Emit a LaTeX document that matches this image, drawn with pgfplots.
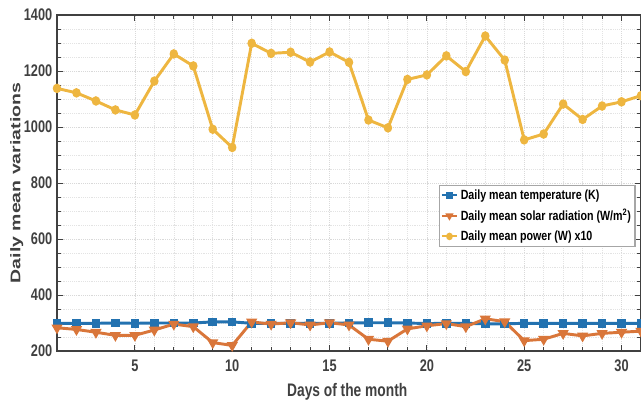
\documentclass[border=0pt]{standalone}
\usepackage{pgfplots}
\pgfplotsset{compat=1.18}
\usepackage{fontspec}
\setmainfont{Liberation Sans}
\newfontfamily\condsans[FakeStretch=0.76]{Liberation Sans}
\newfontfamily\legsans[FakeStretch=0.8]{Liberation Sans}
\newfontfamily\widesans[FakeStretch=1.39]{Liberation Sans}

\definecolor{tempblue}{RGB}{35,114,176}
\definecolor{solarorange}{RGB}{217,118,58}
\definecolor{poweryellow}{RGB}{238,182,64}
\definecolor{axisgray}{RGB}{64,64,64}

% Daily means over one month
\pgfplotstableread{
day temp solar power
1  299 283 1138
2  299 277 1122
3  299 267 1093
4  300 256 1061
5  299 256 1043
6  300 275 1164
7  300 296 1261
8  300 287 1218
9  304 230 992
10 304 220 927
11 299 304 1299
12 299 296 1263
13 299 301 1267
14 299 293 1232
15 299 301 1268
16 300 293 1231
17 301 242 1025
18 301 235 997
19 300 279 1170
20 298 290 1186
21 299 298 1254
22 299 287 1198
23 297 315 1325
24 297 305 1239
25 299 237 954
26 299 242 975
27 299 263 1082
28 299 254 1027
29 299 263 1075
30 299 267 1090
31 299 271 1112
}\monthdata

\begin{document}
\begin{tikzpicture}
\begin{axis}[
  scale only axis,
  width=438pt, height=252pt,
  xmin=1, xmax=31, ymin=200, ymax=1400,
  xtick={5,10,...,30}, ytick={200,400,...,1400},
  minor x tick num=4, minor y tick num=3,
  tick align=inside,
  major tick length=4.5pt, minor tick length=3pt,
  grid=both,
  major grid style={densely dotted, gray!30},
  minor grid style={densely dotted, gray!22},
  axis line style={axisgray, line width=0.9pt},
  every tick/.style={axisgray, line width=0.7pt},
  /pgf/number format/assume math mode=true,
  /pgf/number format/1000 sep={},
  tick label style={font=\condsans\bfseries\fontsize{12.6}{14}\selectfont, text=axisgray},
  xticklabel style={yshift=-3pt},
  xlabel={Days of the month},
  ylabel={Daily mean variations},
  xlabel style={at={(axis description cs:0.497,-0.134)}, anchor=base,
    font=\condsans\bfseries\fontsize{13.6}{15}\selectfont, text=axisgray},
  ylabel style={at={(axis description cs:-0.069,0.5)}, anchor=center, rotate=0,
    font=\widesans\bfseries\fontsize{10.5}{12}\selectfont, text=axisgray},
  legend style={at={(axis description cs:0.654,0.494)}, anchor=north west,
    draw=gray!70, line width=0.8pt, fill=white,
    font=\legsans\bfseries\fontsize{10}{11}\selectfont,
    row sep=2pt, inner sep=1pt, cells={anchor=west}},
  legend image code/.code={
    \draw[line width=1.6pt, mark size=2pt, mark repeat=2, mark phase=2]
      plot coordinates {(0cm,0cm) (0.2cm,0cm) (0.4cm,0cm)};
  },
]
\addplot[tempblue, line width=2.2pt, mark=square*, mark size=2.1pt,
  mark options={solid, fill=tempblue}] table[x=day, y=temp] {\monthdata};
\addlegendentry{Daily mean temperature (K)}
\addplot[solarorange, line width=2.2pt, mark=triangle*, mark size=2.7pt,
  mark options={solid, fill=solarorange, rotate=180}] table[x=day, y=solar] {\monthdata};
\addlegendentry{Daily mean solar radiation (W/m\textsuperscript{2})}
\addplot[poweryellow, line width=2.2pt, mark=*, mark size=2.4pt,
  mark options={solid, fill=poweryellow, xscale=0.85}] table[x=day, y=power] {\monthdata};
\addlegendentry{Daily mean power (W) x10}
\end{axis}
\pgfresetboundingbox
\path[use as bounding box] (-42.75pt,-37.5pt) rectangle (438pt,263.25pt);
\end{tikzpicture}
\end{document}
